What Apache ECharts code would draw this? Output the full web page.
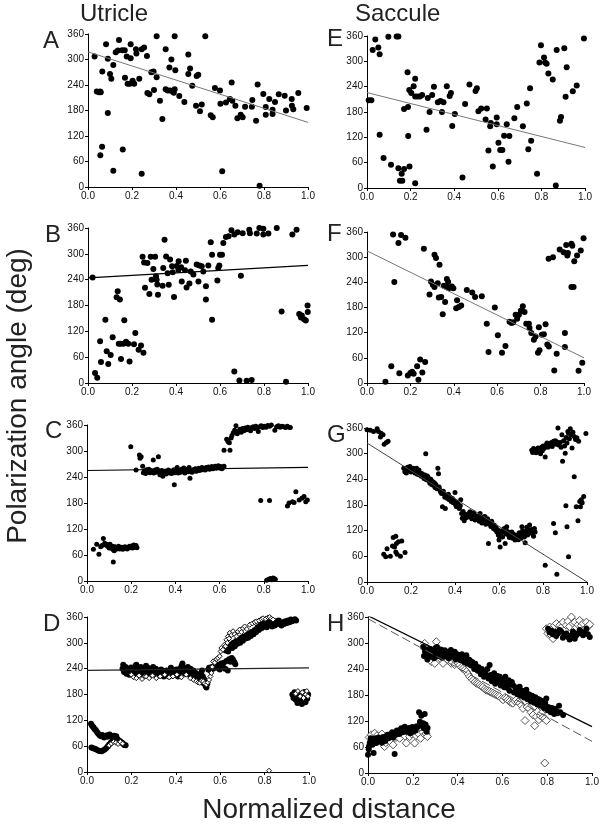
<!DOCTYPE html>
<html><head><meta charset="utf-8">
<script src="https://cdn.jsdelivr.net/npm/echarts@6/dist/echarts.min.js"></script>
<style>html,body{margin:0;padding:0;background:#fff}#c{width:603px;height:826px}</style>
</head><body><div id="c"></div>
<script>
const xTickLabels = ['0.0','0.2','0.4','0.6','0.8','1.0'];
const yTickValues = [0,60,120,180,240,300,360];
const colTitles = ['Utricle','Saccule'];
const panelLetters = ['A','B','C','D','E','F','G','H'];
const yTitle = 'Polarization angle (deg)';
const xTitle = 'Normalized distance';

// ---------- Panel A (utricle) ----------
const dotsA = [[0.03,307],[0.04,225],[0.05,223],[0.055,225],[0.058,223],[0.065,272],[0.056,75],[0.064,95],[0.082,336],[0.09,302],[0.09,174],[0.1,266],[0.106,255],[0.115,287],[0.115,38],[0.126,317],[0.141,346],[0.136,321],[0.158,88],[0.155,322],[0.167,322],[0.168,257],[0.176,307],[0.18,243],[0.19,243],[0.194,336],[0.194,303],[0.203,250],[0.21,243],[0.218,324],[0.22,314],[0.233,255],[0.244,324],[0.244,31],[0.255,328],[0.268,308],[0.27,221],[0.279,218],[0.288,270],[0.298,272],[0.3,228],[0.312,355],[0.312,258],[0.327,203],[0.338,160],[0.353,324],[0.353,230],[0.362,227],[0.37,281],[0.373,227],[0.379,300],[0.385,225],[0.394,355],[0.397,275],[0.394,230],[0.39,222],[0.415,214],[0.438,200],[0.456,312],[0.464,279],[0.456,266],[0.474,238],[0.491,191],[0.494,261],[0.501,264],[0.509,178],[0.517,194],[0.533,355],[0.558,169],[0.567,164],[0.577,233],[0.6,227],[0.602,196],[0.61,37],[0.627,199],[0.645,207],[0.653,246],[0.656,203],[0.67,191],[0.679,162],[0.694,170],[0.703,164],[0.714,189],[0.745,189],[0.747,205],[0.764,156],[0.771,241],[0.78,3],[0.797,219],[0.808,188],[0.808,170],[0.824,207],[0.839,182],[0.839,172],[0.85,200],[0.867,218],[0.894,215],[0.9,180],[0.926,207],[0.927,191],[0.933,183],[0.956,221],[0.994,186]];
const lineA = [[0,318],[1,152]];

// ---------- Panel B ----------
const dotsB = [[0.021,245],[0.032,23],[0.042,12],[0.055,97],[0.059,49],[0.079,147],[0.085,74],[0.092,44],[0.103,65],[0.112,106],[0.13,199],[0.135,213],[0.145,194],[0.15,56],[0.14,91],[0.148,91],[0.165,146],[0.161,91],[0.173,96],[0.183,91],[0.189,50],[0.209,90],[0.215,116],[0.23,77],[0.241,87],[0.252,70],[0.248,293],[0.255,280],[0.259,221],[0.27,279],[0.279,207],[0.285,293],[0.289,240],[0.297,265],[0.305,293],[0.309,248],[0.312,240],[0.315,229],[0.318,205],[0.339,226],[0.342,267],[0.348,333],[0.355,294],[0.362,255],[0.367,228],[0.373,287],[0.385,257],[0.382,271],[0.391,200],[0.403,272],[0.412,283],[0.411,263],[0.426,236],[0.423,269],[0.441,262],[0.445,284],[0.448,222],[0.461,231],[0.467,259],[0.479,252],[0.494,275],[0.502,236],[0.506,273],[0.517,271],[0.524,259],[0.536,225],[0.536,194],[0.547,273],[0.558,327],[0.564,147],[0.564,298],[0.588,238],[0.592,267],[0.597,273],[0.6,298],[0.609,298],[0.615,325],[0.627,339],[0.639,341],[0.652,355],[0.665,345],[0.665,27],[0.68,350],[0.688,6],[0.695,249],[0.703,348],[0.721,5],[0.733,356],[0.736,348],[0.744,7],[0.767,347],[0.779,360],[0.797,358],[0.797,345],[0.82,347],[0.858,360],[0.88,166],[0.9,3],[0.929,345],[0.948,356],[0.96,160],[0.968,152],[0.972,157],[0.982,148],[0.99,145],[0.998,180],[0.999,165]];
const lineB = [[0,244],[1,273]];

// ---------- Panel C ----------
const dotsC = [[0.029,73],[0.044,85],[0.054,62],[0.062,79],[0.068,82],[0.074,98],[0.08,87],[0.085,83],[0.089,85],[0.093,80],[0.097,81],[0.1,76],[0.104,85],[0.108,78],[0.112,75],[0.116,80],[0.119,72],[0.119,44],[0.123,70],[0.127,79],[0.131,73],[0.134,75],[0.138,77],[0.143,80],[0.148,74],[0.152,76],[0.157,78],[0.162,73],[0.167,75],[0.172,79],[0.177,76],[0.182,74],[0.187,78],[0.192,80],[0.197,77],[0.202,81],[0.207,76],[0.212,83],[0.217,79],[0.222,82],[0.226,77],
[0.198,310],[0.222,256],[0.237,291],[0.24,283],[0.245,287],[0.252,265],[0.255,250],[0.26,254],[0.265,248],[0.27,257],[0.275,252],[0.28,258],[0.285,250],[0.29,255],[0.295,253],[0.3,279],[0.302,249],[0.308,256],[0.313,251],[0.318,258],[0.323,287],[0.325,254],[0.33,245],[0.334,250],[0.338,255],[0.343,242],[0.348,250],[0.353,253],[0.358,247],[0.363,251],[0.368,256],[0.373,249],[0.378,253],[0.383,248],[0.388,252],[0.393,257],[0.395,222],[0.398,250],[0.403,254],[0.408,262],[0.413,249],[0.418,255],[0.423,251],[0.428,258],[0.433,253],[0.438,261],[0.443,249],[0.448,254],[0.453,258],[0.458,252],[0.462,262],[0.466,237],[0.47,255],[0.475,251],[0.48,257],[0.485,254],[0.49,259],[0.495,253],[0.5,256],[0.505,260],[0.51,255],[0.515,258],[0.52,262],[0.525,257],[0.53,260],[0.535,256],[0.54,262],[0.545,259],[0.55,263],[0.555,258],[0.56,261],[0.565,264],[0.57,259],[0.575,262],[0.58,265],[0.585,260],[0.59,263],[0.594,266],[0.6,261],[0.605,264],[0.61,259],[0.615,262],[0.62,265],
[0.62,302],[0.632,327],[0.638,322],[0.644,319],[0.647,302],[0.652,330],[0.656,336],[0.662,342],[0.668,348],[0.674,358],[0.68,340],[0.686,345],[0.692,350],[0.698,343],[0.704,352],[0.71,347],[0.716,353],[0.722,349],[0.728,355],[0.734,351],[0.74,347],[0.746,354],[0.752,356],[0.758,352],[0.764,357],[0.77,353],[0.775,345],[0.782,356],[0.788,358],[0.795,354],[0.802,357],[0.81,355],[0.818,359],[0.826,357],[0.834,360],[0.85,348],[0.858,356],[0.866,358],[0.874,355],[0.882,357],[0.89,356],[0.898,354],[0.906,357],[0.914,355],[0.92,354],
[0.786,186],[0.826,186],[0.907,173],[0.914,180],[0.93,183],[0.945,206],[0.96,187],[0.972,191],[0.982,195],[0.99,183],[0.997,187],[0.937,181],
[0.813,2],[0.822,4],[0.83,6],[0.836,3],[0.842,7],[0.848,5],[0.852,4]];
const lineC = [[0,255],[1,262]];

// ---------- Panel D ----------
const dotsD = [[0.018,112],[0.022,108],[0.027,105],[0.031,102],[0.036,99],[0.04,97],[0.045,93],[0.049,90],[0.054,87],[0.058,85],[0.063,83],[0.068,86],[0.072,84],[0.077,80],[0.082,83],[0.087,85],[0.092,82],[0.097,86],[0.102,87],[0.107,83],[0.112,80],[0.117,81],[0.122,84],[0.127,79],[0.132,83],[0.137,76],[0.142,74],[0.147,72],[0.152,70],[0.157,68],[0.162,66],[0.168,63],[0.174,62],
[0.02,57],[0.027,55],[0.035,54],[0.042,52],[0.05,50],[0.057,49],[0.065,48],[0.072,50],[0.08,52],[0.087,56],[0.094,60],[0.1,64],[0.107,68],
[0.16,240],[0.163,249],[0.167,232],[0.17,236],[0.174,244],[0.178,228],[0.182,233],[0.186,240],[0.19,226],[0.194,235],[0.198,243],[0.202,230],[0.206,238],[0.21,224],[0.214,234],[0.218,246],[0.222,249],[0.226,232],[0.23,240],[0.234,228],[0.238,238],[0.242,244],[0.246,230],[0.25,236],[0.254,226],[0.258,240],[0.262,233],[0.266,247],[0.27,238],[0.274,242],[0.278,229],[0.282,236],[0.286,226],[0.29,240],[0.294,232],[0.298,244],[0.302,236],[0.306,228],[0.31,240],[0.314,230],[0.318,236],[0.322,224],[0.326,232],[0.33,228],[0.334,238],[0.338,226],[0.342,230],[0.346,222],[0.35,234],[0.354,228],[0.358,236],[0.362,224],[0.366,230],[0.37,222],[0.374,234],[0.378,242],[0.382,230],[0.386,225],[0.39,236],[0.394,226],[0.398,232],[0.402,238],[0.406,228],[0.41,222],[0.414,236],[0.418,240],[0.422,232],[0.426,246],[0.43,252],[0.434,242],[0.438,234],[0.442,228],[0.446,238],[0.45,232],[0.454,244],[0.458,236],[0.462,226],[0.466,240],[0.47,232],[0.474,222],[0.478,236],[0.482,228],[0.486,220],[0.49,230],[0.494,216],[0.498,224],[0.502,212],[0.506,226],[0.51,218],[0.514,230],[0.518,236],[0.522,222],[0.526,206],[0.53,214],[0.534,200],[0.538,196],[0.542,205],[0.546,238],[0.55,242],[0.556,236],[0.562,244],[0.568,240],[0.574,246],[0.58,250],[0.586,242],[0.592,248],[0.598,238],[0.604,252],[0.61,246],[0.616,254],[0.622,240],[0.628,258],[0.634,236],[0.64,262],[0.646,256],[0.652,265],[0.658,261],[0.664,255],[0.668,250],
[0.625,282],[0.63,288],[0.636,280],[0.642,290],[0.648,296],[0.654,288],[0.66,300],[0.666,292],[0.672,304],[0.678,298],[0.684,308],[0.69,300],[0.696,312],[0.702,305],[0.708,315],[0.714,310],[0.72,318],[0.726,312],[0.732,322],[0.738,316],[0.744,326],[0.75,320],[0.756,330],[0.762,325],[0.768,336],[0.774,330],[0.78,340],[0.786,334],[0.792,346],[0.798,338],[0.804,344],[0.81,336],[0.816,350],[0.822,342],[0.828,348],[0.834,338],[0.84,346],[0.846,340],[0.852,350],[0.858,344],[0.864,352],[0.87,346],[0.876,340],[0.882,348],[0.888,344],[0.894,350],[0.9,346],[0.906,352],[0.912,348],[0.918,354],[0.924,350],[0.93,353],[0.936,355],[0.942,352],
[0.925,180],[0.93,172],[0.935,185],[0.94,168],[0.945,176],[0.948,160],[0.952,170],[0.956,182],[0.96,165],[0.964,174],[0.968,158],[0.972,178],[0.976,168],[0.98,186],[0.984,162],[0.988,175],[0.992,170],[0.996,180]];
const diamondsD = [[0.1,62],[0.11,66],[0.12,70],[0.13,68],[0.14,65],[0.15,70],[0.16,66],
[0.2,226],[0.21,220],[0.222,218],[0.235,224],[0.248,216],[0.26,222],[0.267,222],[0.28,218],[0.295,224],[0.312,218],[0.33,222],[0.35,226],[0.37,220],[0.387,222],[0.405,226],[0.425,220],[0.447,226],[0.465,218],[0.48,214],[0.492,211],[0.5,208],[0.508,207],[0.516,212],[0.523,211],[0.53,206],[0.538,203],[0.544,208],[0.55,214],[0.556,222],[0.56,230],[0.564,244],[0.568,257],[0.575,254],[0.583,262],[0.59,265],[0.598,269],[0.602,280],[0.605,288],[0.612,284],[0.62,296],[0.624,292],[0.628,307],[0.632,300],[0.635,315],[0.64,310],[0.643,323],[0.65,318],[0.658,327],[0.665,320],[0.673,315],[0.68,326],[0.688,331],[0.695,325],[0.703,334],[0.71,338],[0.72,332],[0.733,342],[0.745,345],[0.755,348],[0.763,350],[0.775,352],[0.785,355],[0.793,357],[0.805,356],[0.815,359],[0.823,360],[0.83,356],[0.838,354],[0.82,3],
[0.94,182],[0.95,188],[0.96,176],[0.97,185],[0.975,172],[0.985,180],[0.99,188],[0.995,176]];
const lineD = [[0,236],[1,242]];

// ---------- Panel E (saccule) ----------
const dotsE = [[0.008,208],[0.02,208],[0.026,327],[0.038,352],[0.052,333],[0.058,317],[0.058,126],[0.076,71],[0.098,358],[0.11,55],[0.136,359],[0.144,359],[0.144,47],[0.151,17],[0.162,17],[0.159,34],[0.17,45],[0.17,187],[0.186,274],[0.188,192],[0.189,123],[0.195,51],[0.194,232],[0.203,225],[0.214,241],[0.221,259],[0.221,217],[0.221,11],[0.232,217],[0.243,217],[0.253,220],[0.273,138],[0.279,213],[0.287,180],[0.299,220],[0.307,240],[0.325,203],[0.337,206],[0.344,180],[0.351,203],[0.366,241],[0.379,218],[0.385,225],[0.391,147],[0.403,175],[0.438,25],[0.45,199],[0.47,245],[0.498,230],[0.504,236],[0.511,182],[0.524,188],[0.55,188],[0.544,162],[0.557,89],[0.565,146],[0.568,154],[0.577,51],[0.595,167],[0.595,151],[0.603,107],[0.611,90],[0.621,90],[0.629,124],[0.641,151],[0.649,62],[0.653,123],[0.676,165],[0.689,192],[0.715,146],[0.733,200],[0.74,92],[0.748,236],[0.753,112],[0.78,34],[0.791,297],[0.798,338],[0.812,309],[0.817,297],[0.824,294],[0.832,271],[0.852,257],[0.866,6],[0.87,327],[0.885,159],[0.89,168],[0.905,331],[0.911,216],[0.916,286],[0.944,229],[0.962,243],[0.995,354]];
const lineE = [[0,226],[1,96]];

// ---------- Panel F ----------
const dotsF = [[0.085,3],[0.112,40],[0.12,354],[0.126,241],[0.145,334],[0.149,23],[0.157,353],[0.177,346],[0.188,18],[0.2,24],[0.208,27],[0.215,22],[0.231,40],[0.237,8],[0.245,56],[0.255,25],[0.268,50],[0.262,320],[0.288,211],[0.295,242],[0.303,234],[0.311,306],[0.318,298],[0.311,229],[0.326,238],[0.334,282],[0.331,204],[0.342,205],[0.349,164],[0.354,232],[0.36,193],[0.366,229],[0.368,248],[0.374,241],[0.377,226],[0.391,230],[0.398,226],[0.411,178],[0.415,197],[0.423,181],[0.434,185],[0.46,222],[0.485,216],[0.498,205],[0.529,207],[0.552,141],[0.56,74],[0.589,180],[0.603,114],[0.622,72],[0.638,88],[0.657,146],[0.666,143],[0.674,145],[0.685,163],[0.692,153],[0.7,163],[0.709,172],[0.718,183],[0.726,169],[0.734,141],[0.746,141],[0.749,131],[0.757,119],[0.769,103],[0.777,111],[0.788,72],[0.792,133],[0.795,78],[0.806,115],[0.815,116],[0.823,140],[0.831,92],[0.838,87],[0.837,296],[0.857,300],[0.863,30],[0.874,70],[0.888,318],[0.906,312],[0.912,119],[0.912,86],[0.918,329],[0.923,304],[0.926,310],[0.942,332],[0.946,327],[0.942,229],[0.952,229],[0.955,290],[0.968,304],[0.975,29],[0.985,316],[0.992,48],[0.998,345]];
const lineF = [[0,315],[1,60]];

// ---------- Panel G ----------
const dotsG = [[0,356],[0.015,355],[0.03,352],[0.046,358],[0.052,352],[0.064,348],[0.061,339],[0.073,344],[0.078,322],[0.088,326],[0.096,329],
[0.076,65],[0.085,59],[0.091,78],[0.106,60],[0.116,84],[0.119,104],[0.125,82],[0.131,107],[0.134,90],[0.137,65],[0.143,94],[0.152,60],[0.158,96],[0.173,69],[0.131,70],
[0.167,266],[0.172,258],[0.176,262],[0.179,255],[0.184,268],[0.188,260],[0.192,264],[0.195,270],[0.199,257],[0.203,263],[0.207,259],[0.21,266],[0.214,262],[0.218,255],[0.222,260],[0.225,266],[0.229,252],[0.232,258],[0.236,262],[0.24,250],[0.243,255],[0.247,247],[0.251,253],[0.255,247],[0.259,242],[0.263,250],[0.267,300],[0.27,239],[0.274,248],[0.278,245],[0.282,236],[0.286,231],[0.29,240],[0.294,228],[0.298,235],[0.302,226],[0.306,232],[0.309,221],[0.313,228],[0.318,218],[0.322,266],[0.325,253],[0.328,222],[0.331,215],[0.335,210],[0.339,207],[0.343,176],[0.347,212],[0.35,205],[0.354,198],[0.356,172],[0.359,203],[0.362,200],[0.366,195],[0.37,205],[0.374,192],[0.378,198],[0.383,188],[0.388,195],[0.392,185],[0.396,190],[0.4,209],[0.403,180],[0.407,176],[0.411,186],[0.415,180],[0.42,172],[0.424,178],[0.426,192],[0.43,160],[0.433,149],[0.437,165],[0.442,143],[0.446,158],[0.45,150],[0.453,157],[0.458,152],[0.462,160],[0.468,164],[0.472,155],[0.476,148],[0.48,157],[0.485,162],[0.491,145],[0.495,155],[0.502,151],[0.506,147],[0.51,142],[0.514,160],[0.518,150],[0.522,138],[0.526,145],[0.53,152],[0.536,153],[0.54,135],[0.544,141],[0.548,148],[0.552,90],[0.555,138],[0.559,135],[0.563,130],[0.567,142],[0.571,129],[0.575,125],[0.578,133],[0.582,123],[0.586,128],[0.59,117],[0.594,122],[0.597,110],[0.6,98],[0.603,105],[0.605,82],[0.608,112],[0.612,120],[0.616,105],[0.62,117],[0.624,125],[0.628,90],[0.632,112],[0.635,129],[0.639,118],[0.643,110],[0.647,104],[0.651,115],[0.655,108],[0.658,117],[0.662,102],[0.666,112],[0.669,107],[0.673,98],[0.678,104],[0.683,110],[0.688,99],[0.692,115],[0.696,107],[0.7,102],[0.704,129],[0.707,120],[0.711,113],[0.715,105],[0.719,92],[0.722,118],[0.726,128],[0.73,110],[0.735,122],[0.739,133],[0.744,115],[0.749,123],[0.753,112],[0.757,107],[0.761,125],[0.764,117],
[0.749,308],[0.753,303],[0.757,312],[0.761,306],[0.765,310],[0.769,302],[0.773,308],[0.777,313],[0.781,305],[0.785,310],[0.789,300],[0.793,315],[0.797,307],[0.8,318],[0.804,312],[0.81,292],[0.814,320],[0.818,325],[0.822,315],[0.826,322],[0.83,318],[0.833,321],[0.838,326],[0.842,317],[0.848,329],[0.852,324],[0.856,330],[0.86,322],[0.864,327],[0.868,360],[0.872,320],[0.878,326],[0.882,315],[0.886,344],[0.889,282],[0.894,330],[0.898,318],[0.901,301],[0.905,338],[0.909,325],[0.913,352],[0.916,348],[0.92,335],[0.924,358],[0.927,344],[0.932,313],[0.936,350],[0.942,340],[0.948,333],[0.954,337],[0.962,329],[0.995,347],
[0.81,39],[0.848,137],[0.856,115],[0.863,18],[0.904,178],[0.909,129],[0.916,59],[0.942,246],[0.951,176],[0.959,143],[0.967,188],[0.974,192],[0.985,200],[0.97,176],[0.978,185]];
const lineG = [[0,325],[1,0]];

// ---------- Panel H ----------
const dotsH = [[0,42],[0.003,55],[0.004,61],[0.008,70],[0.012,80],[0.015,77],[0.02,65],[0.025,46],[0.028,72],[0.032,80],[0.037,69],[0.042,75],[0.047,82],[0.052,73],[0.057,78],[0.062,70],[0.067,83],[0.072,77],[0.077,74],[0.082,85],[0.087,88],[0.092,80],[0.097,86],[0.102,90],[0.104,84],[0.108,94],[0.113,82],[0.119,44],[0.119,92],[0.124,88],[0.129,98],[0.134,96],[0.139,90],[0.144,100],[0.149,103],[0.154,94],[0.159,99],[0.164,107],[0.169,95],[0.174,102],[0.179,96],[0.184,104],[0.189,92],[0.193,100],[0.198,106],[0.203,96],[0.208,103],[0.213,98],[0.218,108],[0.223,107],[0.228,140],[0.232,118],[0.238,132],[0.242,110],[0.246,115],[0.248,103],[0.253,136],[0.257,112],[0.262,95],[0.266,104],
[0.246,291],[0.25,270],[0.255,280],[0.26,285],[0.265,262],[0.27,274],[0.275,287],[0.28,268],[0.285,278],[0.29,283],[0.295,265],[0.3,288],[0.305,275],[0.308,291],[0.313,270],[0.32,277],[0.325,285],[0.33,266],[0.335,278],[0.342,283],[0.348,270],[0.355,280],[0.36,265],[0.365,276],[0.37,284],[0.375,268],[0.38,278],[0.387,280],[0.392,262],[0.398,274],[0.404,268],[0.409,272],[0.414,260],[0.419,274],[0.424,268],[0.43,256],[0.434,266],[0.439,272],[0.444,252],[0.449,262],[0.454,260],[0.46,248],[0.465,256],[0.469,249],[0.474,240],[0.479,252],[0.484,245],[0.49,236],[0.494,244],[0.499,237],[0.504,228],[0.508,240],[0.513,234],[0.518,222],[0.523,232],[0.528,226],[0.533,240],[0.538,218],[0.543,249],[0.548,226],[0.553,212],[0.558,218],[0.563,230],[0.568,206],[0.573,214],[0.578,224],[0.583,210],[0.588,222],[0.593,202],[0.598,216],[0.603,211],[0.608,198],[0.613,222],[0.618,207],[0.623,196],[0.628,214],[0.632,190],[0.637,204],[0.642,210],[0.647,203],[0.652,186],[0.657,198],[0.662,195],[0.667,182],[0.672,192],[0.677,199],[0.682,178],[0.687,190],[0.692,188],[0.697,174],[0.702,186],[0.707,192],[0.712,170],[0.717,182],[0.722,180],[0.727,165],[0.732,178],[0.737,176],[0.742,162],[0.747,175],[0.751,172],[0.756,158],[0.761,170],[0.766,169],[0.771,155],[0.776,166],[0.781,165],[0.786,150],[0.791,162],[0.796,172],[0.801,145],[0.806,152],[0.811,149],[0.816,140],[0.821,150],[0.826,146],[0.831,136],[0.836,148],[0.841,142],[0.846,138],[0.853,155],[0.858,140],[0.871,134],
[0.804,333],[0.81,325],[0.818,328],[0.825,320],[0.833,326],[0.84,316],[0.848,322],[0.855,330],[0.863,326],[0.87,312],[0.878,318],[0.885,322],[0.893,314],[0.9,308],[0.908,318],[0.915,326],[0.923,310],[0.93,318],[0.938,322],[0.945,330],[0.952,326],[0.96,318],[0.968,324],[0.975,333],[0.982,320],[0.99,314]];
const diamondsH = [[0.005,82],[0.015,88],[0.03,92],[0.04,86],[0.052,77],[0.062,90],[0.074,61],[0.08,70],[0.089,77],[0.1,72],[0.112,65],[0.125,82],[0.141,80],[0.15,92],[0.156,100],[0.165,85],[0.171,69],[0.18,95],[0.186,84],[0.195,90],[0.208,69],[0.215,86],[0.223,92],[0.235,80],[0.245,94],[0.253,88],[0.26,90],[0.265,84],
[0.253,299],[0.26,282],[0.268,276],[0.275,262],[0.283,257],[0.29,270],[0.298,253],[0.305,303],[0.312,280],[0.32,272],[0.327,262],[0.335,253],[0.342,276],[0.35,268],[0.358,260],[0.365,264],[0.372,253],[0.38,266],[0.387,250],[0.394,257],[0.402,254],[0.409,249],[0.417,244],[0.424,241],[0.432,238],[0.439,234],[0.447,228],[0.454,222],[0.462,218],[0.469,214],[0.477,210],[0.484,207],[0.492,206],[0.499,203],[0.506,200],[0.513,198],[0.521,194],[0.528,191],[0.536,190],[0.543,188],[0.551,186],[0.558,184],[0.566,182],[0.573,180],[0.581,178],[0.588,176],[0.596,172],[0.603,169],[0.611,174],[0.618,172],[0.625,168],[0.632,165],[0.64,162],[0.647,161],[0.655,166],[0.662,169],[0.67,164],[0.677,161],[0.685,156],[0.692,149],[0.701,121],[0.71,152],[0.719,149],[0.728,140],[0.737,134],[0.744,109],[0.751,130],[0.757,142],[0.763,123],[0.77,132],[0.774,138],[0.78,128],[0.789,126],[0.796,121],[0.789,23],
[0.796,333],[0.803,322],[0.811,337],[0.818,318],[0.826,326],[0.826,310],[0.833,340],[0.841,345],[0.848,330],[0.856,341],[0.863,336],[0.871,348],[0.878,330],[0.885,341],[0.893,350],[0.9,338],[0.908,360],[0.915,345],[0.923,348],[0.93,336],[0.938,342],[0.945,352],[0.952,340],[0.96,345],[0.968,332],[0.975,348],[0.982,338],[0.99,343]];
const lineH = [[0,363],[1,107]];
const lineHdash = [[0,356],[1,73]];

// ---------- layout ----------
const FONT = '"Liberation Sans", Arial, Helvetica, sans-serif';
const gridBoxes = [
  {left:88, top:34, width:220, height:153},   // A
  {left:88, top:228, width:220, height:155},  // B
  {left:87, top:425, width:221, height:156},  // C
  {left:87, top:617, width:222, height:155},  // D
  {left:367, top:36, width:218, height:152},  // E
  {left:367, top:232, width:217, height:151}, // F
  {left:367, top:428, width:220, height:154}, // G
  {left:368, top:617, width:224, height:156}  // H
];
const letterPos = [[43,41.5],[45,235],[45,431.5],[43,624],[327,39.5],[327,234],[327,435],[327,624]];

const xAxes = [], yAxes = [], series = [];
gridBoxes.forEach((g, i) => {
  xAxes.push({
    gridIndex: i, type: 'value', min: 0, max: 1, interval: 0.2,
    axisLine: {show: true, onZero: false, lineStyle: {color: '#000', width: 1}},
    axisTick: {show: true, length: 3, lineStyle: {color: '#000', width: 1}},
    axisLabel: {fontSize: 10, color: '#111', fontFamily: FONT, margin: 4,
      formatter: v => xTickLabels[Math.round(v / 0.2)]},
    splitLine: {show: false}
  });
  yAxes.push({
    gridIndex: i, type: 'value', min: yTickValues[0], max: yTickValues[yTickValues.length-1], interval: 60,
    axisLine: {show: true, onZero: false, lineStyle: {color: '#000', width: 1}},
    axisTick: {show: true, length: 3, lineStyle: {color: '#000', width: 1}},
    axisLabel: {fontSize: 10, color: '#111', fontFamily: FONT, margin: 4},
    splitLine: {show: false}
  });
});

function dots(i, data, size) {
  return {type: 'scatter', xAxisIndex: i, yAxisIndex: i, data, symbol: 'circle', symbolSize: size,
    itemStyle: {color: '#000', opacity: 1}, silent: true, z: 3};
}
function diamonds(i, data, size, border, z) {
  return {type: 'scatter', xAxisIndex: i, yAxisIndex: i, data, symbol: 'diamond', symbolSize: size,
    itemStyle: {color: '#fff', borderColor: border, borderWidth: 1, opacity: 1}, silent: true, z: z};
}
function fit(i, data, color, width, type) {
  return {type: 'line', xAxisIndex: i, yAxisIndex: i, data, symbol: 'none', clip: true, silent: true, z: 5,
    lineStyle: {color, width, type: type || 'solid'}};
}

series.push(dots(0, dotsA, 6), fit(0, lineA, '#777', 1));
series.push(dots(1, dotsB, 6), fit(1, lineB, '#000', 1.3));
series.push(dots(2, dotsC, 5), fit(2, lineC, '#000', 1.2));
series.push(dots(3, dotsD, 6), diamonds(3, diamondsD, 5, '#111', 4), fit(3, lineD, '#222', 1.2));
series.push(dots(4, dotsE, 6), fit(4, lineE, '#777', 1));
series.push(dots(5, dotsF, 6), fit(5, lineF, '#777', 1));
series.push(dots(6, dotsG, 5), fit(6, lineG, '#444', 1));
series.push(diamonds(7, diamondsH, 8, '#555', 2), dots(7, dotsH, 6), fit(7, lineH, '#000', 1.2), fit(7, lineHdash, '#555', 1, [9,4]));

const graphics = [];
const txt = (x, y, text, size, extra) => Object.assign({type: 'text', x, y, silent: true,
  style: {text, fontSize: size, fontFamily: FONT, fill: '#222', textAlign: 'left', textVerticalAlign: 'middle'}}, extra || {});
graphics.push(txt(80, 14, colTitles[0], 24));
graphics.push(txt(355, 14, colTitles[1], 24));
panelLetters.forEach((L, i) => graphics.push(txt(letterPos[i][0], letterPos[i][1], L, 24)));
graphics.push({type: 'text', x: 18, y: 396, rotation: Math.PI / 2, silent: true,
  style: {text: yTitle, fontSize: 28, fontFamily: FONT, fill: '#222', textAlign: 'center', textVerticalAlign: 'middle'}});
graphics.push({type: 'text', x: 329, y: 810, silent: true,
  style: {text: xTitle, fontSize: 28, fontFamily: FONT, fill: '#222', textAlign: 'center', textVerticalAlign: 'middle'}});

const chart = echarts.init(document.getElementById('c'), null, {renderer: 'canvas'});
chart.setOption({
  animation: false,
  backgroundColor: '#fff',
  grid: gridBoxes.map(g => Object.assign({containLabel: false}, g)),
  xAxis: xAxes, yAxis: yAxes, series, graphic: graphics
});
</script></body></html>
